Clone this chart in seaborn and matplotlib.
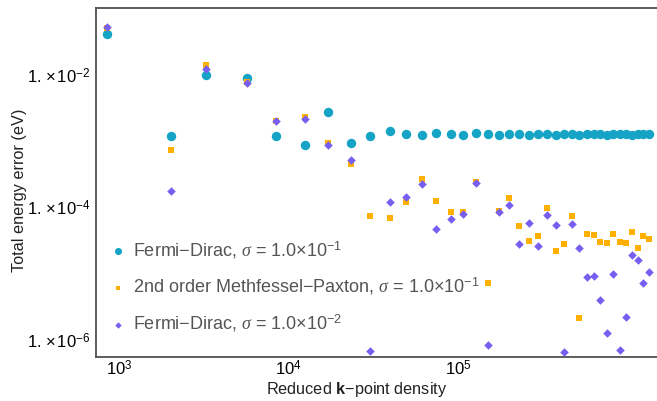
import numpy as np
import pandas as pd
import matplotlib
matplotlib.use("Agg")
import matplotlib.pyplot as plt
from matplotlib.ticker import NullLocator, FixedLocator, FixedFormatter
import seaborn as sns

# ---- data ----
kdens = [853, 2027, 3273, 5715, 8404, 12513, 17170, 23475, 30260, 39540,
         49340, 61570, 74470, 90570, 107470, 127740, 149730, 174540, 200900, 229960,
         262390, 297680, 335100, 377050, 420300, 468600, 519500, 574500, 631900, 691000,
         754300, 821200, 899500, 975900, 1063000, 1148700, 1239700, 1339600]

fd1 = [4.15e-2, 1.21e-3, 9.97e-3, 8.98e-3, 1.21e-3, 8.73e-4, 2.75e-3, 9.46e-4, 1.19e-3, 1.42e-3,
       1.29e-3, 1.24e-3, 1.33e-3, 1.28e-3, 1.24e-3, 1.33e-3, 1.28e-3, 1.27e-3, 1.28e-3, 1.28e-3,
       1.27e-3, 1.28e-3, 1.28e-3, 1.27e-3, 1.28e-3, 1.28e-3, 1.27e-3, 1.28e-3, 1.28e-3, 1.28e-3,
       1.27e-3, 1.28e-3, 1.28e-3, 1.28e-3, 1.27e-3, 1.28e-3, 1.28e-3, 1.28e-3]

mp2 = [5.2e-2, 7.41e-4, 1.41e-2, 7.8e-3, 2.05e-3, 2.36e-3, 9.36e-4, 4.56e-4, 7.55e-5, 7.04e-5,
       1.23e-4, 2.68e-4, 1.27e-4, 8.58e-5, 8.67e-5, 2.46e-4, 7.34e-6, 8.8e-5, 1.41e-4, 5.33e-5,
       3.16e-5, 3.76e-5, 9.97e-5, 2.23e-5, 2.85e-5, 7.55e-5, 2.17e-6, 4.04e-5, 3.90e-5, 3.05e-5,
       2.95e-5, 4.04e-5, 3.02e-5, 2.95e-5, 4.28e-5, 2.45e-5, 3.76e-5, 3.39e-5]

fd2 = [5.41e-2, 1.80e-4, 1.253e-2, 7.55e-3, 2.01e-3, 2.16e-3, 8.73e-4, 5.18e-4, 6.75e-7, 1.20e-4,
       1.43e-4, 2.30e-4, 4.70e-5, 6.66e-5, 7.92e-5, 2.33e-4, 8.40e-7, 8.58e-5, 1.08e-4, 2.82e-5,
       5.79e-5, 2.60e-5, 7.65e-5, 5.40e-5, 6.66e-7, 5.60e-5, 2.43e-5, 8.85e-6, 9.36e-6, 3.98e-6,
       1.26e-6, 9.83e-6, 6.99e-7, 2.22e-6, 1.90e-5, 1.60e-5, 7.18e-6, 1.05e-5]

labels = [r"Fermi$-$Dirac, $\sigma$ = 1.0$\times$10$^{-1}$",
          r"2nd order Methfessel$-$Paxton, $\sigma$ = 1.0$\times$10$^{-1}$",
          r"Fermi$-$Dirac, $\sigma$ = 1.0$\times$10$^{-2}$"]

xticks = [1e3, 1e4, 1e5]
xticklabels = [r"$10^{3}$", r"$10^{4}$", r"$10^{5}$"]
yticks = [1e-6, 1e-4, 1e-2]
yticklabels = [r"$1.\,{\times}\,10^{-6}$", r"$1.\,{\times}\,10^{-4}$", r"$1.\,{\times}\,10^{-2}$"]

colors = ["#15a4c5", "#ffb000", "#785ef0"]

# ---- style ----
sns.set_style("white")
plt.rcParams["font.family"] = ["Liberation Sans", "DejaVu Sans"]
plt.rcParams["mathtext.fontset"] = "custom"
plt.rcParams["mathtext.rm"] = "Liberation Sans"
plt.rcParams["mathtext.sf"] = "Liberation Sans"
plt.rcParams["mathtext.it"] = "Liberation Serif:italic"
plt.rcParams["mathtext.bf"] = "Liberation Sans:bold"

fig = plt.figure(figsize=(6.57, 4.01), dpi=100)
ax = fig.add_axes([0.1461, 0.1085, 0.859, 0.8715])

df = pd.DataFrame({"k": kdens, "fd1": fd1, "mp2": mp2, "fd2": fd2})

sns.scatterplot(data=df, x="k", y="fd1", ax=ax, color=colors[0], marker="o",
                s=46, linewidth=0, label=labels[0], zorder=3)
sns.scatterplot(data=df, x="k", y="mp2", ax=ax, color=colors[1], marker="s",
                s=15, linewidth=0, label=labels[1], zorder=4)
sns.scatterplot(data=df, x="k", y="fd2", ax=ax, color=colors[2], marker="D",
                s=19, linewidth=0, label=labels[2], zorder=5)

ax.set_xscale("log")
ax.set_yscale("log")
ax.set_xlim(731, 1.561e6)
ax.set_ylim(5.44e-7, 0.1035)

ax.xaxis.set_major_locator(FixedLocator(xticks))
ax.xaxis.set_major_formatter(FixedFormatter(xticklabels))
ax.yaxis.set_major_locator(FixedLocator(yticks))
ax.yaxis.set_major_formatter(FixedFormatter(yticklabels))
ax.xaxis.set_minor_locator(NullLocator())
ax.yaxis.set_minor_locator(NullLocator())
ax.tick_params(axis="both", which="major", direction="in", length=2.5, width=0.8,
               labelsize=12, colors="#333333", labelcolor="black", pad=4)
ax.tick_params(axis="x", pad=1.5)

for sp in ax.spines.values():
    sp.set_color("#505050")
    sp.set_linewidth(1.3)
ax.spines["right"].set_visible(False)

ax.set_xlabel(r"Reduced $\mathbf{k}$$-$point density", fontsize=11.7, color="#222222")
ax.xaxis.set_label_coords(0.462, -0.064)
ax.xaxis.label.set_va("top")
ax.set_ylabel("Total energy error (eV)", fontsize=11.7, color="#222222")
ax.yaxis.set_label_coords(-0.122, 0.479)

leg = ax.legend(loc="upper left", bbox_to_anchor=(0.0103, 0.359), frameon=False,
                fontsize=13, markerscale=0.75, handlelength=1.0, handletextpad=0.35,
                labelspacing=0.85, borderpad=0.4, borderaxespad=0.0)
for t in leg.get_texts():
    t.set_color("#555555")

fig.savefig("out.png", dpi=100)
